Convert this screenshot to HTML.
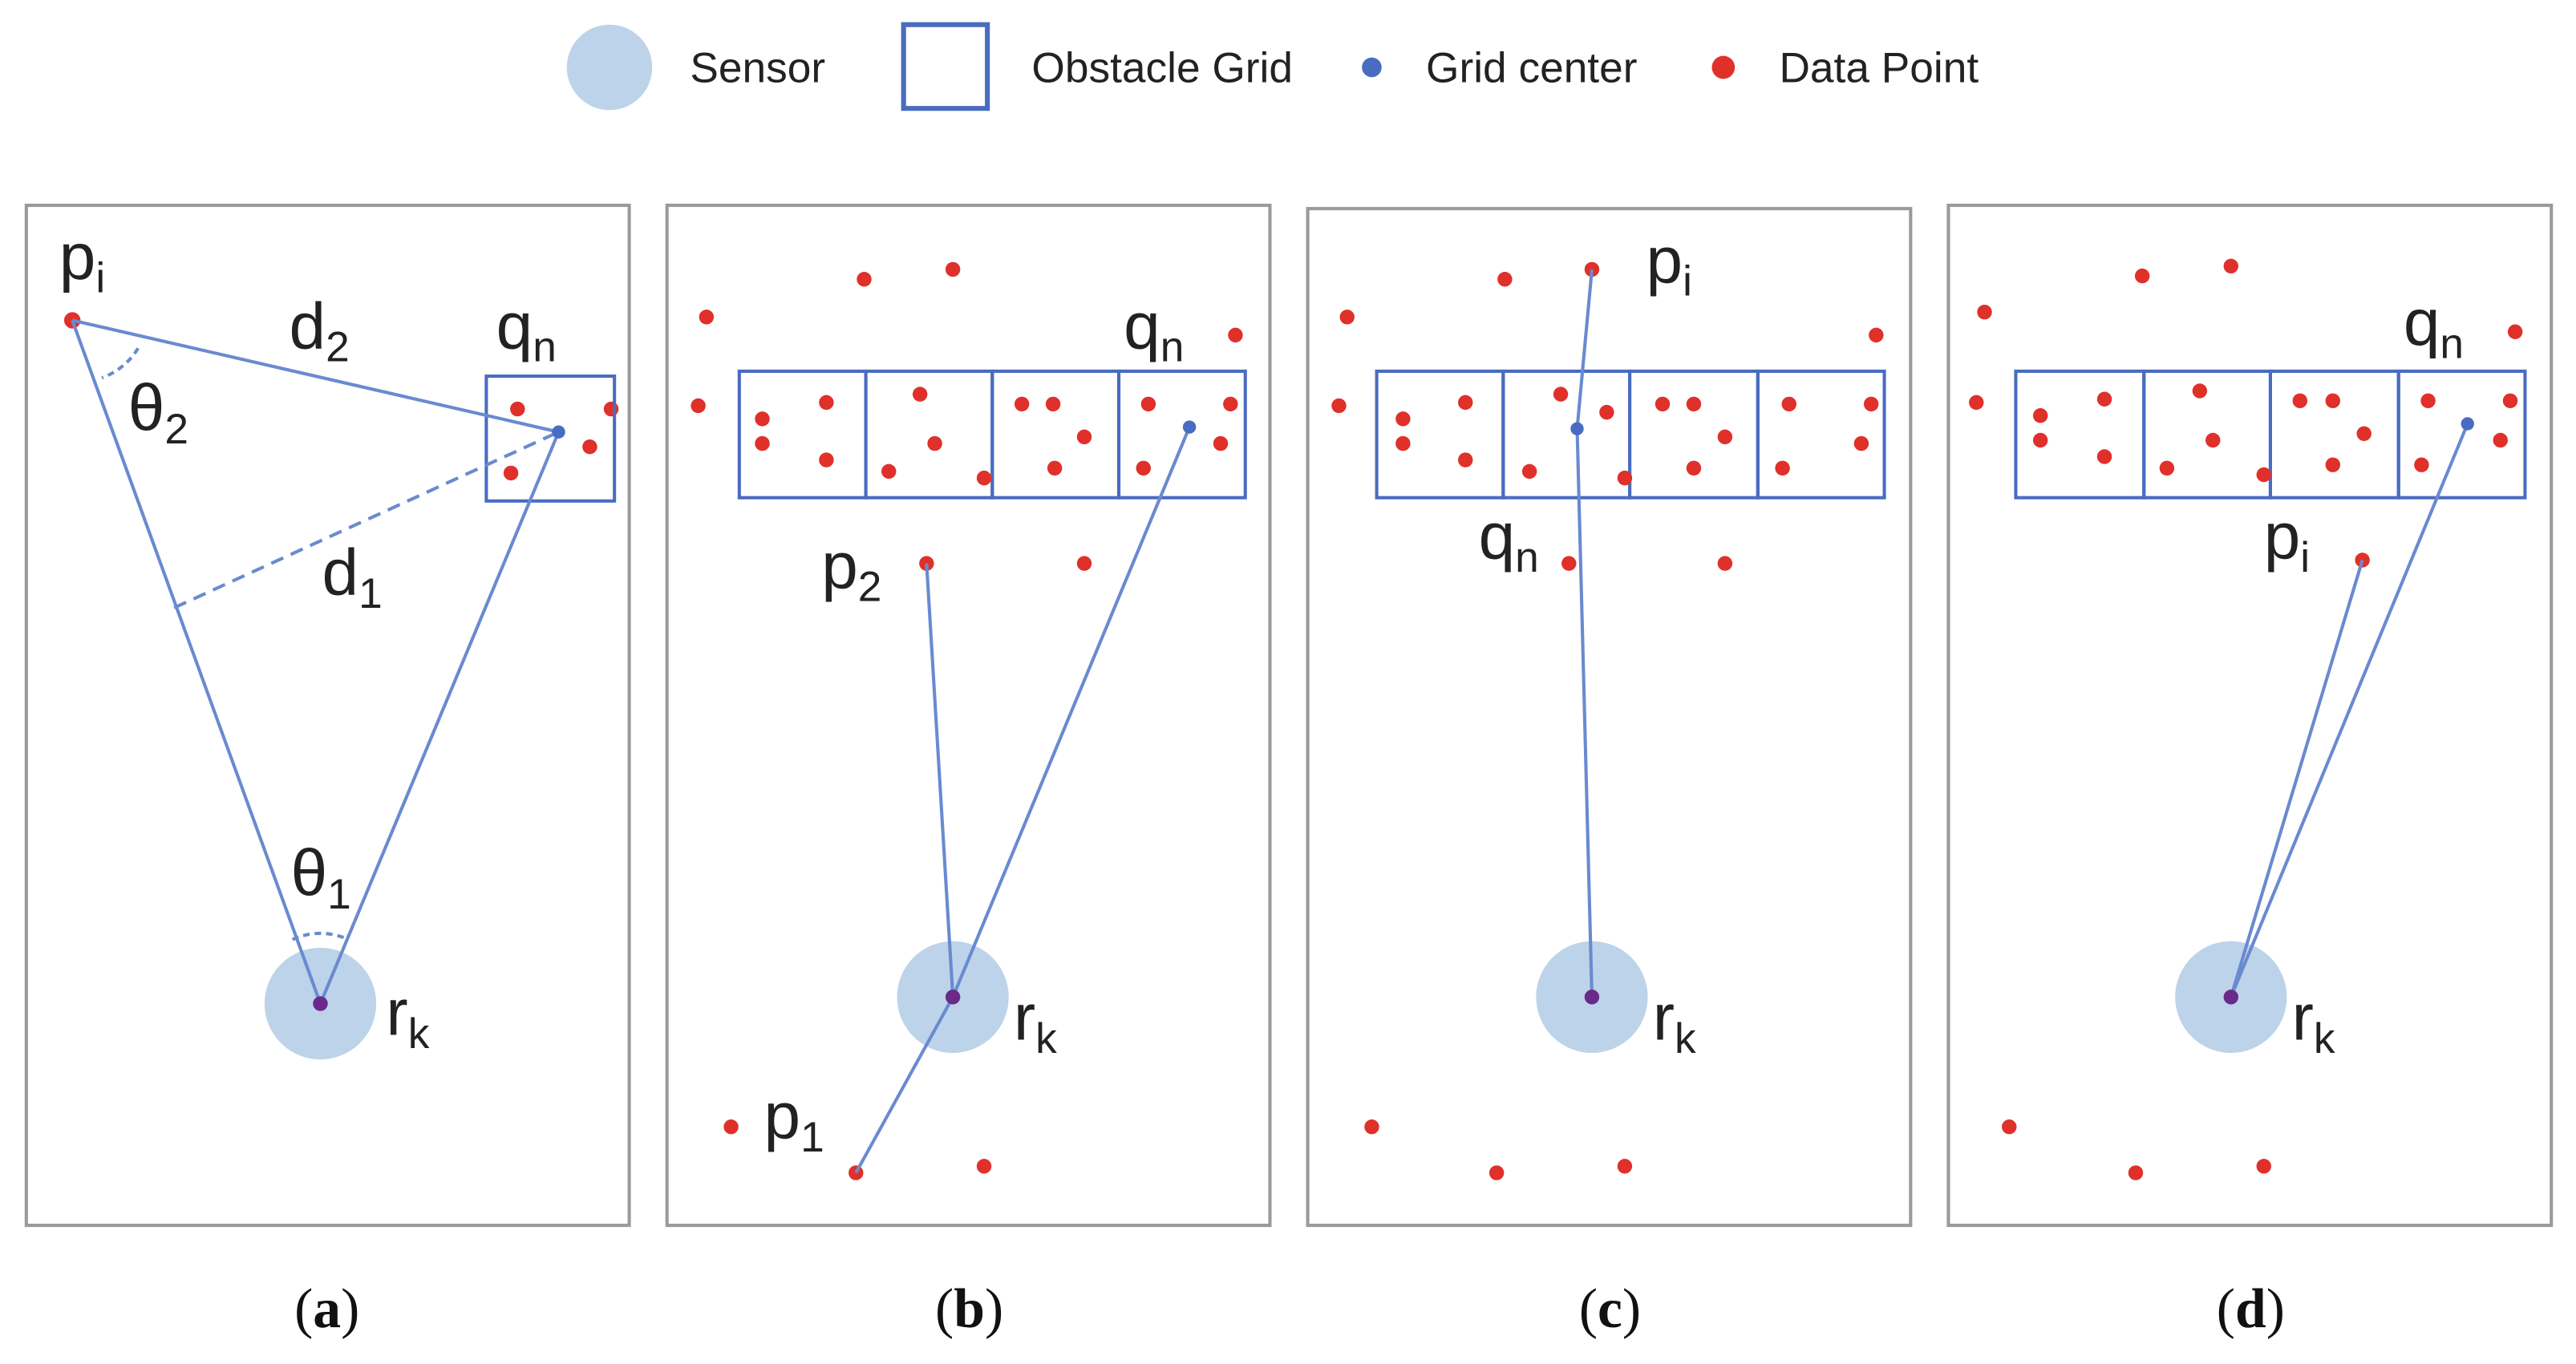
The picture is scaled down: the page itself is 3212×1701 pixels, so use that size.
<!DOCTYPE html>
<html><head><meta charset="utf-8"><style>html,body{margin:0;padding:0;background:#fff}svg{display:block}</style></head>
<body>
<svg width="3212" height="1701" viewBox="0 0 1568 830.4" xmlns="http://www.w3.org/2000/svg">
<defs><style>
.t{font-family:"Liberation Sans",sans-serif;fill:#222}
.lg{font-size:26px}
.lb{font-size:40px}
.sb{font-size:26px}
.cap{font-family:"Liberation Serif",serif;font-size:34px;fill:#111}
.pn{fill:none;stroke:#9a9a9a;stroke-width:2}
.g{fill:none;stroke:#4a6cc0;stroke-width:2}
.ln{stroke:#6a8ad0;stroke-width:2;fill:none}
</style></defs>
<rect width="1568" height="830.4" fill="#fff"/>
<circle cx="371" cy="41" r="26" fill="#bdd3ea"/>
<text class="t lg" x="420" y="50">Sensor</text>
<rect x="550" y="15" width="51" height="51" fill="none" stroke="#4a6cc0" stroke-width="3"/>
<text class="t lg" x="628" y="50">Obstacle Grid</text>
<circle cx="835" cy="41" r="6" fill="#4a6cc0"/>
<text class="t lg" x="868" y="50">Grid center</text>
<circle cx="1049" cy="41" r="7" fill="#e0302a"/>
<text class="t lg" x="1083" y="50">Data Point</text>
<rect class="pn" x="16" y="125" width="367" height="621"/>
<rect class="pn" x="406" y="125" width="367" height="621"/>
<rect class="pn" x="796" y="127" width="367" height="619"/>
<rect class="pn" x="1186" y="125" width="367" height="621"/>
<g fill="#e0302a">
<circle cx="44" cy="195" r="5"/><circle cx="315" cy="249" r="4.5"/><circle cx="372" cy="249" r="4.5"/><circle cx="359" cy="272" r="4.5"/><circle cx="311" cy="288" r="4.5"/>
</g>
<circle cx="195" cy="611" r="34" fill="#bdd3ea"/>
<rect class="g" x="296" y="229" width="78" height="76"/>
<polyline class="ln" points="44,195 340,263 195,611 44,195"/>
<line class="ln" x1="106" y1="370" x2="340" y2="263" stroke-dasharray="8,5"/>
<path class="ln" d="M84,212 A42,42 0 0 1 62,230" stroke-dasharray="4,3"/>
<path class="ln" d="M178,572 A40,40 0 0 1 212,572" stroke-dasharray="4,3"/>
<circle cx="340" cy="263" r="4" fill="#4a6cc0"/>
<circle cx="195" cy="611" r="4.5" fill="#6a2a8a"/>
<text class="t lb" x="36" y="170">p<tspan class="sb" dy="8">i</tspan></text>
<text class="t lb" x="176" y="212">d<tspan class="sb" dy="8">2</tspan></text>
<text class="t lb" x="302" y="212">q<tspan class="sb" dy="8">n</tspan></text>
<text class="t lb" x="78" y="262">θ<tspan class="sb" dy="8">2</tspan></text>
<text class="t lb" x="196" y="362">d<tspan class="sb" dy="8">1</tspan></text>
<text class="t lb" x="177" y="545">θ<tspan class="sb" dy="8">1</tspan></text>
<text class="t lb" x="235" y="630">r<tspan class="sb" dy="8">k</tspan></text>

<circle cx="580" cy="607" r="34" fill="#bdd3ea"/>
<g class="g"><rect x="450" y="226" width="77" height="77"/><rect x="527" y="226" width="77" height="77"/><rect x="604" y="226" width="77" height="77"/><rect x="681" y="226" width="77" height="77"/></g>
<g fill="#e0302a">
<circle cx="430" cy="193" r="4.5"/><circle cx="526" cy="170" r="4.5"/><circle cx="580" cy="164" r="4.5"/><circle cx="752" cy="204" r="4.5"/><circle cx="425" cy="247" r="4.5"/>
<circle cx="464" cy="255" r="4.5"/><circle cx="464" cy="270" r="4.5"/><circle cx="503" cy="245" r="4.5"/><circle cx="503" cy="280" r="4.5"/>
<circle cx="560" cy="240" r="4.5"/><circle cx="569" cy="270" r="4.5"/><circle cx="541" cy="287" r="4.5"/><circle cx="599" cy="291" r="4.5"/>
<circle cx="622" cy="246" r="4.5"/><circle cx="641" cy="246" r="4.5"/><circle cx="660" cy="266" r="4.5"/><circle cx="642" cy="285" r="4.5"/>
<circle cx="699" cy="246" r="4.5"/><circle cx="749" cy="246" r="4.5"/><circle cx="743" cy="270" r="4.5"/><circle cx="696" cy="285" r="4.5"/>
<circle cx="564" cy="343" r="4.5"/><circle cx="660" cy="343" r="4.5"/><circle cx="445" cy="686" r="4.5"/><circle cx="521" cy="714" r="4.5"/><circle cx="599" cy="710" r="4.5"/>
</g>
<polyline class="ln" points="564,343 580,607"/>
<polyline class="ln" points="724,260 580,607 521,714"/>
<circle cx="724" cy="260" r="4" fill="#4a6cc0"/>
<circle cx="580" cy="607" r="4.5" fill="#6a2a8a"/>
<text class="t lb" x="684" y="212">q<tspan class="sb" dy="8">n</tspan></text>
<text class="t lb" x="500" y="358">p<tspan class="sb" dy="8">2</tspan></text>
<text class="t lb" x="617" y="633">r<tspan class="sb" dy="8">k</tspan></text>
<text class="t lb" x="465" y="693">p<tspan class="sb" dy="8">1</tspan></text>

<circle cx="969" cy="607" r="34" fill="#bdd3ea"/>
<g class="g"><rect x="838" y="226" width="77" height="77"/><rect x="915" y="226" width="77" height="77"/><rect x="992" y="226" width="78" height="77"/><rect x="1070" y="226" width="77" height="77"/></g>
<g fill="#e0302a">
<circle cx="820" cy="193" r="4.5"/><circle cx="916" cy="170" r="4.5"/><circle cx="969" cy="164" r="4.5"/><circle cx="1142" cy="204" r="4.5"/><circle cx="815" cy="247" r="4.5"/>
<circle cx="854" cy="255" r="4.5"/><circle cx="854" cy="270" r="4.5"/><circle cx="892" cy="245" r="4.5"/><circle cx="892" cy="280" r="4.5"/>
<circle cx="950" cy="240" r="4.5"/><circle cx="978" cy="251" r="4.5"/><circle cx="931" cy="287" r="4.5"/><circle cx="989" cy="291" r="4.5"/>
<circle cx="1012" cy="246" r="4.5"/><circle cx="1031" cy="246" r="4.5"/><circle cx="1050" cy="266" r="4.5"/><circle cx="1031" cy="285" r="4.5"/>
<circle cx="1089" cy="246" r="4.5"/><circle cx="1139" cy="246" r="4.5"/><circle cx="1133" cy="270" r="4.5"/><circle cx="1085" cy="285" r="4.5"/>
<circle cx="955" cy="343" r="4.5"/><circle cx="1050" cy="343" r="4.5"/><circle cx="835" cy="686" r="4.5"/><circle cx="911" cy="714" r="4.5"/><circle cx="989" cy="710" r="4.5"/>
</g>
<polyline class="ln" points="969,164 960,261 969,607"/>
<circle cx="960" cy="261" r="4" fill="#4a6cc0"/>
<circle cx="969" cy="607" r="4.5" fill="#6a2a8a"/>
<text class="t lb" x="1002" y="172">p<tspan class="sb" dy="8">i</tspan></text>
<text class="t lb" x="900" y="340">q<tspan class="sb" dy="8">n</tspan></text>
<text class="t lb" x="1006" y="633">r<tspan class="sb" dy="8">k</tspan></text>

<circle cx="1358" cy="607" r="34" fill="#bdd3ea"/>
<g class="g"><rect x="1227" y="226" width="78" height="77"/><rect x="1305" y="226" width="77" height="77"/><rect x="1382" y="226" width="78" height="77"/><rect x="1460" y="226" width="77" height="77"/></g>
<g fill="#e0302a">
<circle cx="1208" cy="190" r="4.5"/><circle cx="1304" cy="168" r="4.5"/><circle cx="1358" cy="162" r="4.5"/><circle cx="1531" cy="202" r="4.5"/><circle cx="1203" cy="245" r="4.5"/>
<circle cx="1242" cy="253" r="4.5"/><circle cx="1242" cy="268" r="4.5"/><circle cx="1281" cy="243" r="4.5"/><circle cx="1281" cy="278" r="4.5"/>
<circle cx="1339" cy="238" r="4.5"/><circle cx="1347" cy="268" r="4.5"/><circle cx="1319" cy="285" r="4.5"/><circle cx="1378" cy="289" r="4.5"/>
<circle cx="1400" cy="244" r="4.5"/><circle cx="1420" cy="244" r="4.5"/><circle cx="1439" cy="264" r="4.5"/><circle cx="1420" cy="283" r="4.5"/>
<circle cx="1478" cy="244" r="4.5"/><circle cx="1528" cy="244" r="4.5"/><circle cx="1522" cy="268" r="4.5"/><circle cx="1474" cy="283" r="4.5"/>
<circle cx="1438" cy="341" r="4.5"/><circle cx="1223" cy="686" r="4.5"/><circle cx="1300" cy="714" r="4.5"/><circle cx="1378" cy="710" r="4.5"/>
</g>
<polyline class="ln" points="1438,341 1358,607 1502,258"/>
<circle cx="1502" cy="258" r="4" fill="#4a6cc0"/>
<circle cx="1358" cy="607" r="4.5" fill="#6a2a8a"/>
<text class="t lb" x="1463" y="210">q<tspan class="sb" dy="8">n</tspan></text>
<text class="t lb" x="1378" y="340">p<tspan class="sb" dy="8">i</tspan></text>
<text class="t lb" x="1395" y="633">r<tspan class="sb" dy="8">k</tspan></text>

<text class="cap" x="199" y="808" text-anchor="middle">(<tspan font-weight="bold">a</tspan>)</text>
<text class="cap" x="590" y="808" text-anchor="middle">(<tspan font-weight="bold">b</tspan>)</text>
<text class="cap" x="980" y="808" text-anchor="middle">(<tspan font-weight="bold">c</tspan>)</text>
<text class="cap" x="1370" y="808" text-anchor="middle">(<tspan font-weight="bold">d</tspan>)</text>
</svg>
</body></html>
